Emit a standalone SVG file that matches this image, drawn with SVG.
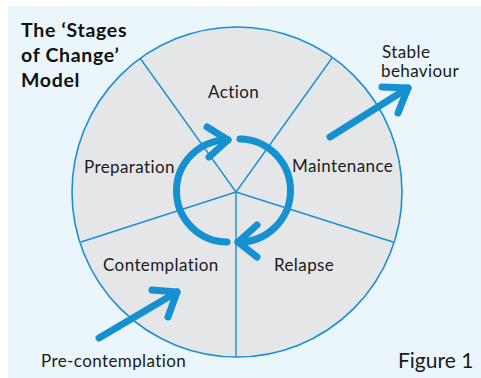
<svg xmlns="http://www.w3.org/2000/svg" width="481" height="378" viewBox="0 0 481 378">
  <style>
    .label { font-family: Lato, "Open Sans", sans-serif; font-size: 17px; letter-spacing: 0.4px; fill: #1a1a1a; }
    .title { font-family: Lato, "Open Sans", sans-serif; font-size: 19.5px; letter-spacing: 0.7px; font-weight: bold; fill: #111; }
    .spoke { stroke: #1891d2; stroke-width: 1.4; fill: none; }
    .arrow { stroke: #1591d1; stroke-width: 7; fill: none; stroke-linecap: round; stroke-linejoin: round; }
  </style>

  <!-- background panel -->
  <rect x="0" y="0" width="481" height="378" fill="#ffffff"/>
  <rect x="8" y="6" width="473" height="372" fill="#eaf6fb"/>

  <!-- title -->
  <g id="title">
    <text class="title" x="21" y="37">The ‘Stages</text>
    <text class="title" x="21" y="62">of Change’</text>
    <text class="title" x="21" y="87">Model</text>
  </g>

  <!-- wheel -->
  <g id="wheel">
    <circle cx="237" cy="192" r="165" fill="#e5e6e8" stroke="#1891d2" stroke-width="1.6"/>
    <line class="spoke" x1="236" y1="192" x2="140" y2="58"/>
    <line class="spoke" x1="236" y1="192" x2="332" y2="58"/>
    <line class="spoke" x1="236" y1="192" x2="81" y2="242"/>
    <line class="spoke" x1="236" y1="192" x2="393" y2="242"/>
    <line class="spoke" x1="236" y1="192" x2="236" y2="357"/>
  </g>

  <!-- stage labels -->
  <g id="action"><text class="label" x="208" y="98">Action</text></g>
  <g id="preparation"><text class="label" x="84" y="173">Preparation</text></g>
  <g id="maintenance"><text class="label" x="292" y="172">Maintenance</text></g>
  <g id="contemplation"><text class="label" x="103" y="271">Contemplation</text></g>
  <g id="relapse"><text class="label" x="274" y="271">Relapse</text></g>
  <g id="pre-contemplation"><text class="label" x="41" y="367">Pre-contemplation</text></g>
  <g id="stable-behaviour">
    <text class="label" x="382" y="58">Stable</text>
    <text class="label" x="381" y="77">behaviour</text>
  </g>

  <!-- connectors -->
  <g id="connectors">
    <!-- cycle: left arc with head at top -->
    <path class="arrow" d="M 227 242 A 51 51 0 0 1 228 140"/>
    <path class="arrow" d="M 207 127 L 228 140 L 209 157"/>
    <!-- cycle: right arc with head at bottom -->
    <path class="arrow" d="M 240 139 A 51 51 0 0 1 238 242"/>
    <path class="arrow" d="M 257 225 L 238 242 L 257 257"/>
    <!-- exit to stable behaviour -->
    <path class="arrow" d="M 330 137 L 408 88"/>
    <path class="arrow" d="M 382 87 L 408 88 L 398 113"/>
    <!-- entry from pre-contemplation -->
    <path class="arrow" d="M 99 338 L 177 292"/>
    <path class="arrow" d="M 152 290 L 177 292 L 168 317"/>
  </g>

  <text x="398" y="368" style="font-family: Lato, 'Open Sans', sans-serif; font-size: 21px; fill: #1a1a1a;">Figure 1</text>
</svg>
